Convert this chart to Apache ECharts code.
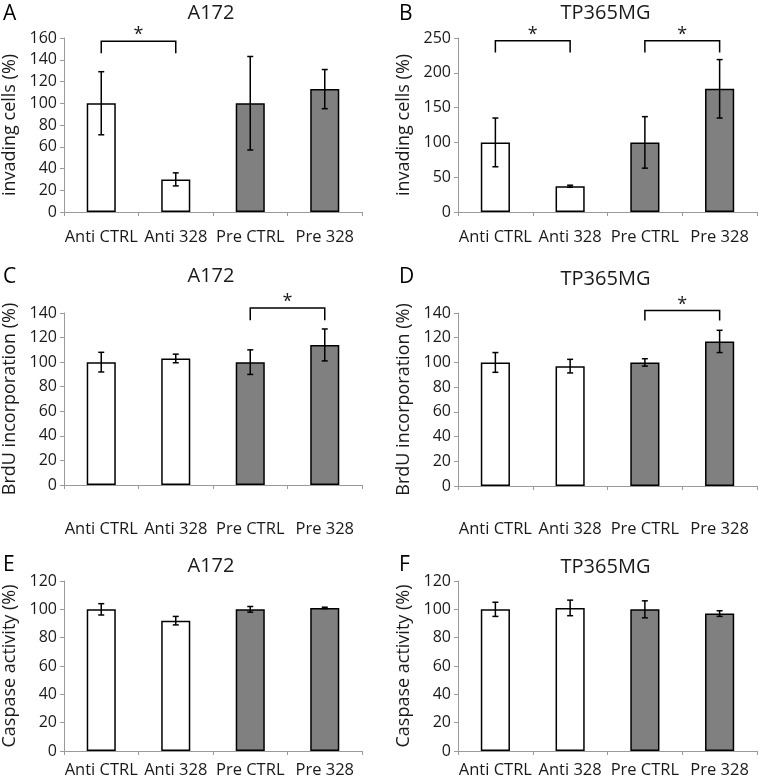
<!DOCTYPE html>
<html>
<head>
<meta charset="utf-8">
<script src="https://cdn.jsdelivr.net/npm/echarts@6/dist/echarts.min.js"></script>
<style>
  html, body { margin: 0; padding: 0; background: #fff; }
  #main { width: 761px; height: 780px; }
</style>
</head>
<body>
<div id="main"></div>
<script>
// categories shared by all panels
var categories = ['Anti CTRL', 'Anti 328', 'Pre CTRL', 'Pre 328'];

// A - invading cells, A172
var invA172 = [100, 30, 100, 113];
var invA172Err = [29, 6, 43, 18];
// B - invading cells, TP365MG
var invTP = [100, 37, 100, 177];
var invTPErr = [35, 1.5, 37, 42];
// C - BrdU, A172
var brdA172 = [100, 103, 100, 114];
var brdA172Err = [8, 3.5, 10, 13];
// D - BrdU, TP365MG
var brdTP = [100, 97, 100, 117];
var brdTPErr = [8, 5.5, 3, 9];
// E - caspase, A172
var casA172 = [100, 92, 100, 101];
var casA172Err = [4, 3, 2, 0.5];
// F - caspase, TP365MG
var casTP = [100, 101, 100, 97];
var casTPErr = [5, 5.5, 6, 2];

// significance brackets: [fromIdx, toIdx, top, legEnd]
var sigA = [[0, 1, 157, 146]];
var sigB = [[0, 1, 246, 229], [2, 3, 246, 229]];
var sigC = [[2, 3, 144, 134]];
var sigD = [[2, 3, 142, 134]];

var fills = ['#ffffff', '#ffffff', '#808080', '#808080'];
var font = '"Open Sans", "Noto Sans", sans-serif';
var txt = '#1a1a1a';
var axisGray = '#9a9a9a';

var panels = [
  {letter: 'A', title: 'A172', yname: 'invading cells (%)', vals: invA172, err: invA172Err, sig: sigA, max: 160, step: 20,
   grid: {left: 64, top: 38, width: 298, height: 174}, labelMargin: 17, titleY: 13, letterY: 14},
  {letter: 'B', title: 'TP365MG', yname: 'invading cells (%)', vals: invTP, err: invTPErr, sig: sigB, max: 250, step: 50,
   grid: {left: 458, top: 38, width: 299, height: 174}, labelMargin: 17, titleY: 13, letterY: 14},
  {letter: 'C', title: 'A172', yname: 'BrdU incorporation (%)', vals: brdA172, err: brdA172Err, sig: sigC, max: 140, step: 20,
   grid: {left: 64, top: 313, width: 298, height: 172}, labelMargin: 36, titleY: 276, letterY: 277},
  {letter: 'D', title: 'TP365MG', yname: 'BrdU incorporation (%)', vals: brdTP, err: brdTPErr, sig: sigD, max: 140, step: 20,
   grid: {left: 458, top: 313, width: 299, height: 173}, labelMargin: 35, titleY: 279, letterY: 277},
  {letter: 'E', title: 'A172', yname: 'Caspase activity (%)', vals: casA172, err: casA172Err, sig: [], max: 120, step: 20,
   grid: {left: 64, top: 581, width: 298, height: 170}, labelMargin: 11, titleY: 566, letterY: 565},
  {letter: 'F', title: 'TP365MG', yname: 'Caspase activity (%)', vals: casTP, err: casTPErr, sig: [], max: 120, step: 20,
   grid: {left: 458, top: 581, width: 299, height: 170}, labelMargin: 11, titleY: 567, letterY: 565}
];

var grids = [], xAxes = [], yAxes = [], series = [], graphics = [];

panels.forEach(function (p, i) {
  grids.push(p.grid);
  xAxes.push({
    type: 'category', gridIndex: i, data: categories, boundaryGap: true,
    axisLine: {lineStyle: {color: axisGray, width: 1}},
    axisTick: {show: true, length: 4, lineStyle: {color: axisGray}},
    axisLabel: {interval: 0, margin: p.labelMargin, color: txt, fontSize: 16.5, fontFamily: font}
  });
  yAxes.push({
    type: 'value', gridIndex: i, min: 0, max: p.max, interval: p.step,
    name: p.yname, nameLocation: 'middle', nameGap: 45, nameRotate: 90,
    nameTextStyle: {color: txt, fontSize: 18, fontFamily: font},
    axisLine: {show: true, lineStyle: {color: axisGray, width: 1}},
    axisTick: {show: true, length: 4, lineStyle: {color: axisGray}},
    axisLabel: {margin: 7, color: txt, fontSize: 16, fontFamily: font},
    splitLine: {show: false}
  });
  series.push({
    type: 'bar', xAxisIndex: i, yAxisIndex: i, barWidth: '39%',
    data: p.vals.map(function (v, k) {
      return {value: v, itemStyle: {color: fills[k], borderColor: '#000', borderWidth: 1.5}};
    }),
    silent: true, animation: false
  });
  // error bars
  series.push({
    type: 'custom', xAxisIndex: i, yAxisIndex: i, z: 5, animation: false,
    data: p.vals.map(function (v, k) { return [k, v - p.err[k], v + p.err[k]]; }),
    encode: {x: 0, y: [1, 2]},
    renderItem: function (params, api) {
      var x = api.value(0);
      var lo = api.coord([x, api.value(1)]);
      var hi = api.coord([x, api.value(2)]);
      var w = 3;
      var st = {stroke: '#000', lineWidth: 1.5};
      return {type: 'group', children: [
        {type: 'line', shape: {x1: lo[0], y1: lo[1], x2: hi[0], y2: hi[1]}, style: st},
        {type: 'line', shape: {x1: hi[0] - w, y1: hi[1], x2: hi[0] + w, y2: hi[1]}, style: st},
        {type: 'line', shape: {x1: lo[0] - w, y1: lo[1], x2: lo[0] + w, y2: lo[1]}, style: st}
      ]};
    }
  });
  // significance brackets
  if (p.sig.length) {
    series.push({
      type: 'custom', xAxisIndex: i, yAxisIndex: i, z: 6, clip: false, animation: false,
      data: p.sig,
      encode: {x: [0, 1], y: [2, 3]},
      renderItem: function (params, api) {
        var a = api.coord([api.value(0), api.value(3)]);
        var b = api.coord([api.value(0), api.value(2)]);
        var c = api.coord([api.value(1), api.value(2)]);
        var d = api.coord([api.value(1), api.value(3)]);
        return {type: 'group', children: [
          {type: 'polyline', shape: {points: [a, b, c, d]}, style: {stroke: '#000', lineWidth: 1.5, fill: null}},
          {type: 'text', x: (b[0] + c[0]) / 2, y: b[1] + 3,
           style: {text: '*', fill: txt, font: '18px ' + font, align: 'center', verticalAlign: 'bottom'}}
        ]};
      }
    });
  }
  graphics.push({
    type: 'text', x: p.grid.left + p.grid.width / 2 - 2, y: p.titleY,
    style: {text: p.title, fill: txt, font: '20px ' + font, align: 'center', verticalAlign: 'middle'}
  });
  graphics.push({
    type: 'text', x: p.grid.left < 200 ? 3 : 399, y: p.letterY,
    style: {text: p.letter, fill: '#000', font: '21px ' + font, align: 'left', verticalAlign: 'middle'}
  });
});

var chart = echarts.init(document.getElementById('main'), null, {renderer: 'canvas'});
chart.setOption({
  animation: false,
  backgroundColor: '#fff',
  grid: grids,
  xAxis: xAxes,
  yAxis: yAxes,
  series: series,
  graphic: graphics
});
</script>
</body>
</html>
